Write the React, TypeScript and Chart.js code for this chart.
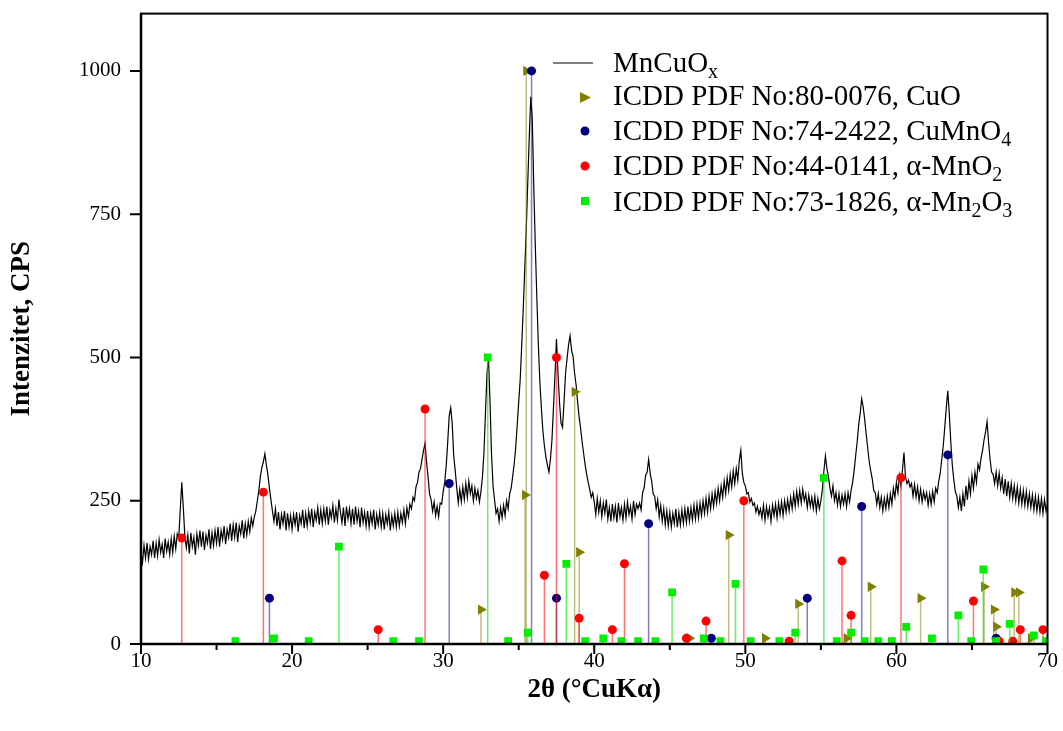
import React, { useEffect, useRef } from 'react';
import { Chart, registerables } from 'chart.js';

Chart.register(...registerables);

const FONT = '"Liberation Serif", "Times New Roman", Times, serif';

// ---------- DATA ----------
// measured pattern MnCuOx, sampled every 0.1 deg starting at 10 deg
const CURVE_START = 10;
const CURVE_STEP = 0.1;
const curveCps = [
  158,142,172,150,176,148,170,156,180,150,
  176,154,182,160,174,150,184,162,178,156,
  184,160,188,166,192,185,235,282,238,190,
  168,190,158,194,170,186,156,192,172,198,
  170,196,164,190,176,200,166,194,172,198,
  176,204,170,198,182,206,174,200,186,210,
  180,208,186,212,178,206,192,216,184,210,
  190,214,196,220,206,222,232,250,268,292,
  308,318,332,312,295,272,252,232,214,236,
  206,230,200,226,210,232,198,228,204,224,
  200,226,208,230,196,224,210,234,202,228,
  206,232,212,236,204,230,216,238,208,234,
  210,236,214,240,208,234,220,242,212,236,
  216,252,230,212,238,206,240,218,236,210,
  236,208,240,214,232,204,238,212,230,206,
  232,204,228,210,234,200,226,208,230,204,
  228,200,226,210,230,198,224,206,228,204,
  230,206,228,212,234,210,238,222,244,236,
  256,250,274,282,300,306,322,338,350,318,
  292,262,252,232,248,224,240,222,246,244,
  266,282,310,352,398,412,384,328,302,272,
  246,270,248,274,252,280,256,284,262,276,
  250,272,254,268,248,266,292,334,404,472,
  498,424,332,276,252,228,236,214,238,220,
  242,224,250,236,262,272,292,314,342,382,
  422,462,522,584,654,724,806,886,955,915,
  796,694,604,522,458,412,372,346,326,312,
  300,322,356,412,468,532,472,422,386,378,
  422,472,498,522,538,512,502,472,452,422,
  396,376,352,332,312,296,282,270,256,264,
  248,226,254,230,250,222,246,228,252,218,
  238,214,244,220,240,212,246,222,238,216,
  244,220,248,226,240,218,250,226,244,236,
  246,234,264,272,294,300,322,298,284,262,
  258,236,252,222,242,214,236,208,232,206,
  230,204,228,210,236,204,230,208,234,210,
  236,212,240,214,238,216,242,218,244,220,
  246,224,250,228,254,230,258,236,262,240,
  266,246,272,250,276,256,284,262,290,268,
  296,274,302,280,306,286,320,338,298,282,
  276,262,264,248,254,242,246,230,240,226,
  236,220,242,216,240,222,238,214,242,224,
  244,220,246,226,248,224,250,230,252,232,
  256,236,262,240,266,244,268,246,270,250,
  262,238,260,240,256,236,258,232,254,236,
  250,270,302,328,306,292,272,258,276,250,
  264,242,262,240,260,244,262,240,264,248,
  268,282,302,328,352,382,402,428,414,392,
  366,342,318,302,288,268,264,244,262,238,
  256,232,254,236,258,238,262,244,272,256,
  282,264,294,276,304,334,292,280,286,274,
  280,258,278,256,274,250,270,248,266,252,
  264,242,262,244,266,248,272,264,284,298,
  322,346,378,412,442,402,352,312,286,266,
  258,238,256,232,262,240,276,252,284,262,
  294,272,300,282,314,304,324,338,356,370,
  388,352,322,300,296,280,300,276,298,272,
  290,262,288,258,284,256,280,254,276,250,
  274,246,270,244,268,242,266,240,262,238,
  260,234,258,232,256,230,254,228,252,232,
  244,
];

// ICDD PDF No:80-0076, CuO
const cuoAngles = [32.5, 35.42, 35.5, 38.7, 39.0, 46.3, 48.9, 51.3, 53.5, 56.7, 58.3, 61.6, 65.8, 66.45, 66.6, 67.8, 68.1, 68.9];
const cuoIntensity = [60, 260, 1000, 440, 160, 10, 190, 10, 70, 10, 100, 80, 100, 60, 30, 90, 90, 10];

// ICDD PDF No:74-2422, CuMnO4
const cumno4Angles = [18.5, 30.4, 35.85, 37.5, 43.6, 47.75, 54.1, 57.7, 63.4, 66.6];
const cumno4Intensity = [80, 280, 1000, 80, 210, 10, 80, 240, 330, 10];

// ICDD PDF No:44-0141, alpha-MnO2
const mno2Angles = [12.7, 18.1, 25.7, 28.8, 36.7, 37.5, 39.0, 41.2, 42.0, 46.1, 47.4, 49.9, 52.9, 56.4, 57.0, 60.3, 65.1, 66.8, 67.7, 68.2, 69.7];
const mno2Intensity = [185, 265, 25, 410, 120, 500, 45, 25, 140, 10, 40, 250, 5, 145, 50, 290, 75, 5, 5, 25, 25];

// ICDD PDF No:73-1826, alpha-Mn2O3
const mn2o3Angles = [16.25, 18.8, 21.1, 23.1, 26.7, 28.4, 32.95, 34.3, 35.6, 38.15, 39.4, 40.6, 41.8, 42.9, 44.05, 45.15, 47.25, 48.35, 49.35, 50.35, 52.25, 53.3, 55.2, 56.05, 57.0, 57.9, 58.8, 59.7, 60.65, 62.35, 64.1, 64.95, 65.75, 66.6, 67.5, 69.1, 69.9];
const mn2o3Intensity = [5, 10, 5, 170, 5, 5, 500, 5, 20, 140, 5, 10, 5, 5, 5, 90, 10, 5, 105, 5, 5, 20, 290, 5, 20, 5, 5, 5, 30, 10, 50, 5, 130, 5, 35, 15, 5];

const xTickLabels = [10, 20, 30, 40, 50, 60, 70];
const xMinorTicks = [15, 25, 35, 45, 55, 65];
const yTickLabels = [0, 250, 500, 750, 1000];

const X_TITLE = '2θ (°CuKα)';
const Y_TITLE = 'Intenzitet, CPS';

// ---------- STYLES ----------
const CANVAS_W = 1063;
const CANVAS_H = 750;
const CANVAS_SHIFT = 19; // canvas is moved up by this amount
const COLORS = {
  cuo: '#808000',
  cuoStick: 'rgba(128,128,0,0.5)',
  cumno4: '#000080',
  cumno4Stick: 'rgba(0,0,140,0.5)',
  mno2: '#ff0000',
  mno2Stick: 'rgba(255,0,0,0.55)',
  mn2o3: '#00ee00',
  mn2o3Stick: 'rgba(0,230,0,0.6)',
};

const toPts = (xs: number[], ys: number[]) => xs.map((x, i) => ({ x, y: ys[i] }));

const sticksPlugin = {
  id: 'sticks',
  beforeDatasetDraw(chart: any, args: any) {
    const ds = chart.data.datasets[args.index];
    if (!ds.stickColor) return;
    const y0 = chart.scales.y.getPixelForValue(0);
    const ctx = chart.ctx;
    const a = chart.chartArea;
    ctx.save();
    ctx.beginPath();
    ctx.rect(a.left, a.top, a.right - a.left, a.bottom - a.top);
    ctx.clip();
    ctx.strokeStyle = ds.stickColor;
    ctx.lineWidth = 1.5;
    args.meta.data.forEach((pt: any) => {
      ctx.beginPath();
      ctx.moveTo(pt.x, pt.y);
      ctx.lineTo(pt.x, y0);
      ctx.stroke();
    });
    ctx.restore();
  },
};

const framePlugin = {
  id: 'frame',
  afterDatasetsDraw(chart: any) {
    const ctx = chart.ctx;
    const a = chart.chartArea;
    const xs = chart.scales.x;
    const ys = chart.scales.y;
    ctx.save();
    ctx.strokeStyle = '#000';
    ctx.lineWidth = 2;
    ctx.strokeRect(a.left, a.top, a.right - a.left, a.bottom - a.top);
    ctx.lineWidth = 2.5;
    ctx.beginPath();
    ctx.moveTo(a.left, a.bottom);
    ctx.lineTo(a.right, a.bottom);
    ctx.moveTo(a.left, a.bottom);
    ctx.lineTo(a.left, a.top);
    ctx.stroke();
    ctx.lineWidth = 2;
    ctx.beginPath();
    xTickLabels.forEach((v) => {
      const p = xs.getPixelForValue(v);
      ctx.moveTo(p, a.bottom);
      ctx.lineTo(p, a.bottom + 10);
    });
    xMinorTicks.forEach((v) => {
      const p = xs.getPixelForValue(v);
      ctx.moveTo(p, a.bottom);
      ctx.lineTo(p, a.bottom + 6);
    });
    yTickLabels.forEach((v) => {
      const p = ys.getPixelForValue(v);
      ctx.moveTo(a.left - 11, p);
      ctx.lineTo(a.left, p);
    });
    ctx.stroke();
    ctx.restore();
  },
};

type Part = [string, boolean];
function drawRich(ctx: CanvasRenderingContext2D, x: number, baseline: number, parts: Part[]) {
  for (const [t, sub] of parts) {
    ctx.font = sub ? `20px ${FONT}` : `29px ${FONT}`;
    ctx.fillText(t, x, baseline + (sub ? 6 : 0));
    x += ctx.measureText(t).width;
  }
}

const legendPlugin = {
  id: 'customLegend',
  afterDraw(chart: any) {
    const ctx: CanvasRenderingContext2D = chart.ctx;
    const mx = 585;
    const tx = 613;
    const o = CANVAS_SHIFT;
    ctx.save();
    ctx.fillStyle = '#000';
    ctx.textBaseline = 'alphabetic';
    ctx.textAlign = 'left';
    ctx.strokeStyle = '#555';
    ctx.lineWidth = 1.5;
    ctx.beginPath();
    ctx.moveTo(553, 63 + o);
    ctx.lineTo(593, 63 + o);
    ctx.stroke();
    drawRich(ctx, tx, 72 + o, [['MnCuO', false], ['x', true]]);
    ctx.fillStyle = COLORS.cuo;
    ctx.beginPath();
    ctx.moveTo(mx - 5, 92 + o);
    ctx.lineTo(mx + 6, 97.5 + o);
    ctx.lineTo(mx - 5, 103 + o);
    ctx.closePath();
    ctx.fill();
    ctx.fillStyle = '#000';
    drawRich(ctx, tx, 105 + o, [['ICDD PDF No:80-0076, CuO', false]]);
    ctx.fillStyle = COLORS.cumno4;
    ctx.beginPath();
    ctx.arc(mx, 131 + o, 4.5, 0, Math.PI * 2);
    ctx.fill();
    ctx.fillStyle = '#000';
    drawRich(ctx, tx, 140 + o, [['ICDD PDF No:74-2422, CuMnO', false], ['4', true]]);
    ctx.fillStyle = COLORS.mno2;
    ctx.beginPath();
    ctx.arc(mx, 166 + o, 4.5, 0, Math.PI * 2);
    ctx.fill();
    ctx.fillStyle = '#000';
    drawRich(ctx, tx, 175 + o, [['ICDD PDF No:44-0141, α-MnO', false], ['2', true]]);
    ctx.fillStyle = COLORS.mn2o3;
    ctx.fillRect(mx - 4, 197 + o, 8, 8);
    ctx.fillStyle = '#000';
    drawRich(ctx, tx, 211 + o, [['ICDD PDF No:73-1826, α-Mn', false], ['2', true], ['O', false], ['3', true]]);
    ctx.restore();
  },
};

export default function App() {
  const ref = useRef<HTMLCanvasElement>(null);

  useEffect(() => {
    const curvePts = curveCps.map((v, i) => ({ x: +(CURVE_START + i * CURVE_STEP).toFixed(2), y: v }));
    const markerDs = (label: string, xs: number[], ys: number[], color: string, stick: string, style: string, radius: number, rotation = 0) => ({
      label,
      data: toPts(xs, ys),
      showLine: false,
      pointStyle: style,
      pointRadius: radius,
      pointRotation: rotation,
      pointBackgroundColor: color,
      pointBorderColor: color,
      pointBorderWidth: 0,
      stickColor: stick,
    });

    const chart = new Chart(ref.current as HTMLCanvasElement, {
      type: 'scatter',
      data: {
        datasets: [
          markerDs('ICDD PDF No:73-1826, α-Mn2O3', mn2o3Angles, mn2o3Intensity, COLORS.mn2o3, COLORS.mn2o3Stick, 'rect', 5.5),
          markerDs('ICDD PDF No:44-0141, α-MnO2', mno2Angles, mno2Intensity, COLORS.mno2, COLORS.mno2Stick, 'circle', 4.5),
          markerDs('ICDD PDF No:74-2422, CuMnO4', cumno4Angles, cumno4Intensity, COLORS.cumno4, COLORS.cumno4Stick, 'circle', 4.5),
          markerDs('ICDD PDF No:80-0076, CuO', cuoAngles, cuoIntensity, COLORS.cuo, COLORS.cuoStick, 'triangle', 6, 90),
          {
            label: 'MnCuOx',
            data: curvePts,
            showLine: true,
            borderColor: '#000',
            borderWidth: 1.2,
            pointRadius: 0,
            tension: 0,
          } as any,
        ] as any,
      },
      options: {
        animation: false,
        responsive: false,
        devicePixelRatio: 1,
        events: [],
        layout: { padding: { left: 0, right: 15, top: 0, bottom: 0 } },
        plugins: { legend: { display: false }, tooltip: { enabled: false } },
        scales: {
          x: {
            type: 'linear',
            min: 10,
            max: 70,
            grid: { display: false, drawTicks: false },
            border: { display: false },
            ticks: { color: '#000', font: { family: FONT, size: 21 }, padding: 5, maxRotation: 0, autoSkip: false, callback: (v: any) => String(v) },
            afterBuildTicks: (s: any) => { s.ticks = xTickLabels.map((v) => ({ value: v })); },
            afterFit: (s: any) => { s.height = 87; },
            title: {
              display: true,
              text: X_TITLE,
              color: '#000',
              font: { family: FONT, size: 27, weight: 'bold' },
              padding: { top: 0, bottom: 25 },
            },
          },
          y: {
            type: 'linear',
            min: 0,
            max: 1100,
            grid: { display: false, drawTicks: false },
            border: { display: false },
            ticks: { color: '#000', font: { family: FONT, size: 21 }, padding: 20, callback: (v: any) => String(v) },
            afterBuildTicks: (s: any) => { s.ticks = yTickLabels.map((v) => ({ value: v })); },
            afterFit: (s: any) => { s.width = 141; },
            title: {
              display: true,
              text: Y_TITLE,
              color: '#000',
              font: { family: FONT, size: 27, weight: 'bold' },
              padding: { top: 6, bottom: 0 },
            },
          },
        },
      } as any,
      plugins: [sticksPlugin, framePlugin, legendPlugin],
    });
    return () => chart.destroy();
  }, []);

  return (
    <div style={{ position: 'fixed', left: 0, top: 0, width: CANVAS_W, height: 731, overflow: 'hidden', background: '#fff' }}>
      <canvas
        ref={ref}
        width={CANVAS_W}
        height={CANVAS_H}
        style={{ display: 'block', position: 'absolute', left: 0, top: -CANVAS_SHIFT, width: CANVAS_W, height: CANVAS_H }}
      />
    </div>
  );
}
